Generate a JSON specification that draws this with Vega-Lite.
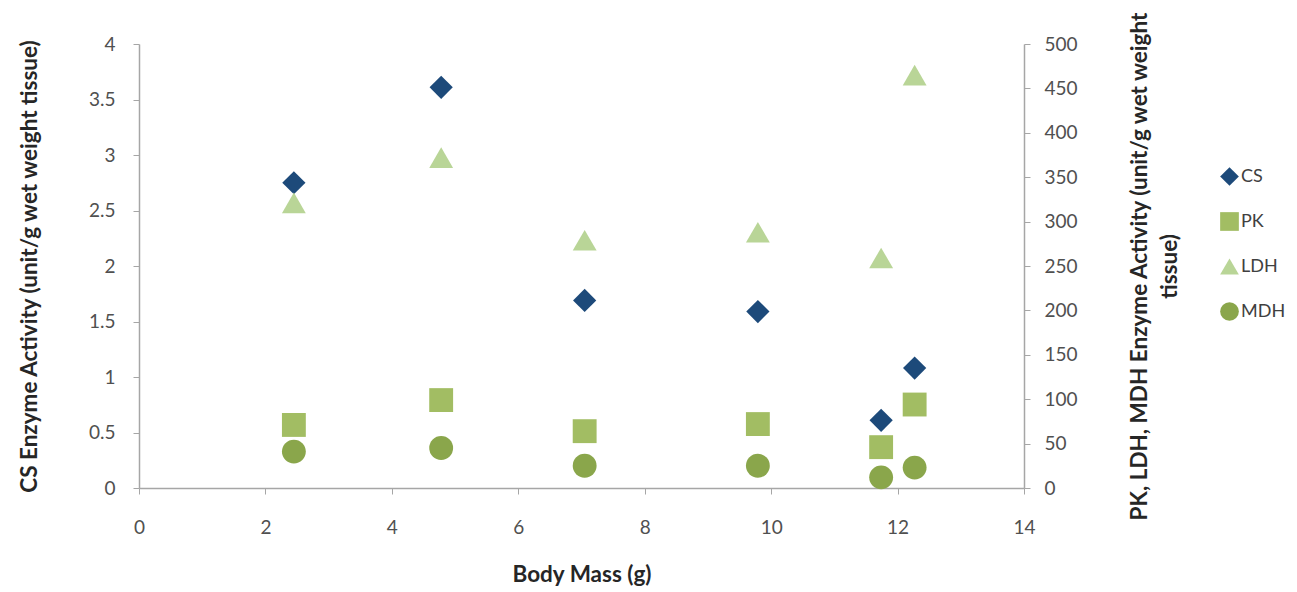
{
  "$schema": "https://vega.github.io/schema/vega-lite/v6.json",
  "width": 885,
  "height": 444,
  "autosize": {"type": "none"},
  "padding": {"left": 139, "top": 44, "right": 273, "bottom": 104},
  "background": "white",
  "config": {
    "view": {"stroke": null},
    "font": "Lato",
    "axis": {
      "grid": false,
      "labelFlush": false,
      "labelOverlap": false,
      "domainColor": "#a6a6a6",
      "tickColor": "#a6a6a6",
      "domainWidth": 1.5,
      "tickWidth": 1,
      "labelColor": "#505050",
      "labelFontSize": 19,
      "titleColor": "#262626",
      "titleFontSize": 22.5,
      "titleFontWeight": "bold"
    }
  },
  "data": {
    "values": [
      {"mass": 2.45, "series": "CS", "value": 2.75},
      {"mass": 4.78, "series": "CS", "value": 3.61},
      {"mass": 7.05, "series": "CS", "value": 1.69},
      {"mass": 9.79, "series": "CS", "value": 1.59},
      {"mass": 11.74, "series": "CS", "value": 0.61},
      {"mass": 12.27, "series": "CS", "value": 1.08},
      {"mass": 2.45, "series": "PK", "value": 71},
      {"mass": 4.78, "series": "PK", "value": 99},
      {"mass": 7.05, "series": "PK", "value": 64},
      {"mass": 9.79, "series": "PK", "value": 72},
      {"mass": 11.74, "series": "PK", "value": 46},
      {"mass": 12.27, "series": "PK", "value": 94},
      {"mass": 2.45, "series": "LDH", "value": 321},
      {"mass": 4.78, "series": "LDH", "value": 372},
      {"mass": 7.05, "series": "LDH", "value": 279},
      {"mass": 9.79, "series": "LDH", "value": 288},
      {"mass": 11.74, "series": "LDH", "value": 259},
      {"mass": 12.27, "series": "LDH", "value": 465},
      {"mass": 2.45, "series": "MDH", "value": 41},
      {"mass": 4.78, "series": "MDH", "value": 45},
      {"mass": 7.05, "series": "MDH", "value": 25},
      {"mass": 9.79, "series": "MDH", "value": 25},
      {"mass": 11.74, "series": "MDH", "value": 12},
      {"mass": 12.27, "series": "MDH", "value": 23}
    ]
  },
  "encoding": {
    "x": {
      "field": "mass",
      "type": "quantitative",
      "scale": {"domain": [0, 14], "nice": false, "zero": true},
      "axis": {
        "title": "Body Mass (g)",
        "values": [0, 2, 4, 6, 8, 10, 12, 14],
        "tickSize": 6,
        "labelPadding": 24,
        "titlePadding": 26
      }
    },
    "color": {
      "field": "series",
      "type": "nominal",
      "scale": {
        "domain": ["CS", "PK", "LDH", "MDH"],
        "range": ["#1d4a7a", "#a2bd63", "#b9d597", "#8aa64b"]
      },
      "legend": {
        "title": null,
        "orient": "none",
        "legendX": 1081,
        "legendY": 123,
        "symbolSize": 350,
        "labelFontSize": 18,
        "labelColor": "#404040",
        "rowPadding": 26,
        "labelOffset": 2,
        "symbolStrokeWidth": 0
      }
    },
    "shape": {
      "field": "series",
      "type": "nominal",
      "scale": {
        "domain": ["CS", "PK", "LDH", "MDH"],
        "range": ["diamond", "square", "triangle-up", "circle"]
      },
      "legend": {
        "title": null,
        "orient": "none",
        "legendX": 1081,
        "legendY": 123,
        "symbolSize": 350,
        "labelFontSize": 18,
        "labelColor": "#404040",
        "rowPadding": 26,
        "labelOffset": 2,
        "symbolStrokeWidth": 0
      }
    }
  },
  "layer": [
    {
      "transform": [{"filter": "datum.series == 'CS'"}],
      "mark": {"type": "point", "filled": true, "opacity": 1, "size": 540},
      "encoding": {
        "y": {
          "field": "value",
          "type": "quantitative",
          "scale": {"domain": [0, 4], "nice": false},
          "axis": {
            "orient": "left",
            "title": "CS Enzyme Activity (unit/g wet weight tissue)",
            "values": [0, 0.5, 1, 1.5, 2, 2.5, 3, 3.5, 4],
            "format": "~g",
            "tickSize": 6,
            "labelPadding": 18,
            "titlePadding": 47
          }
        }
      }
    },
    {
      "transform": [{"filter": "datum.series != 'CS'"}],
      "mark": {"type": "point", "filled": true, "opacity": 1, "size": 570},
      "encoding": {
        "y": {
          "field": "value",
          "type": "quantitative",
          "scale": {"domain": [0, 500], "nice": false},
          "axis": {
            "orient": "right",
            "title": ["PK, LDH, MDH Enzyme Activity (unit/g wet weight", "tissue)"],
            "titleAngle": -90,
            "titleLineHeight": 30,
            "values": [0, 50, 100, 150, 200, 250, 300, 350, 400, 450, 500],
            "tickSize": 6,
            "labelPadding": 14,
            "titlePadding": 44
          }
        }
      }
    }
  ],
  "resolve": {"scale": {"y": "independent"}}
}
